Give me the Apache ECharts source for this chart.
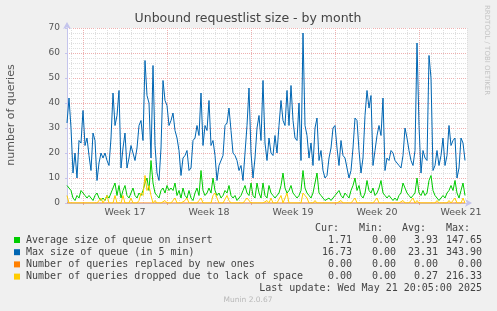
<!DOCTYPE html>
<html><head><meta charset="utf-8">
<script src="https://cdn.jsdelivr.net/npm/echarts@6/dist/echarts.min.js"></script>
<style>html,body{margin:0;padding:0;background:#f0f0f0;}#c{width:497px;height:311px;}</style>
</head><body><div id="c"></div>
<script>
// ---- data ----
const weekLabels = ['Week 17', 'Week 18', 'Week 19', 'Week 20', 'Week 21'];
const yTicks = [0, 10, 20, 30, 40, 50, 60, 70];

const avgQueue = [
  7,7,5,2,1,3,2,5,4,3, 2,3,2,1,3,4,2,1,2,1, 3,2,4,6,8,3,7,2,5,7, 3,2,4,6,3,2,4,3,5,8,
  10,5,17,8,4,3,2,5,6,4, 7,5,6,5,8,3,5,2,6,3, 2,5,2,1,4,6,3,13,5,3, 4,6,4,10,5,3,4,2,3,5,
  4,7,3,2,3,1,2,3,5,7, 4,3,8,3,2,8,4,2,8,3, 2,7,4,3,2,2,4,7,12,6, 4,5,7,4,3,2,3,5,13,6,
  4,3,2,4,8,12,4,3,2,1, 1,2,1,2,3,4,5,3,2,4, 3,2,5,7,10,5,7,3,2,4, 9,5,4,6,3,4,6,9,4,3,
  2,3,2,1,2,1,3,4,8,6, 4,3,2,3,4,10,4,3,5,3, 4,9,11,5,3,2,1,2,3,2, 4,5,7,5,9,4,2,5,8,3
];
const maxQueue = [
  32,42,30,12,20,10,25,24,37,23, 26,19,13,28,25,9,16,20,18,20, 17,15,26,44,31,35,45,14,22,28, 14,18,23,20,17,22,31,33,25,57,
  43,40,18,55,23,12,9,22,49,41, 39,31,33,36,29,26,21,11,18,19, 21,13,14,25,26,31,27,44,23,31, 29,41,23,25,19,9,15,15,19,31,
  32,38,29,20,19,17,13,15,9,20, 31,46,20,10,18,30,35,25,49,24, 17,26,20,19,27,20,31,41,33,31, 45,31,47,33,26,25,40,17,68,31,
  27,18,24,15,30,34,17,21,13,10, 11,18,22,30,31,22,15,25,19,18, 14,10,13,22,34,33,21,12,18,35, 45,38,43,15,21,27,31,27,42,13,
  18,17,21,20,17,16,15,14,19,30, 26,21,17,15,21,64,31,12,21,18, 17,59,50,13,15,21,15,19,26,15, 19,31,23,25,26,10,14,26,24,17
];
const replaced = [
  0,0,0,0,0,0,0,0,0,0, 0,0,0,0,0,0,0,0,0,0, 0,0,0,0,0,0,0,0,0,0, 0,0,0,0,0,0,0,0,0,0,
  0,0,0,0,0,0,0,0,0,0, 0,0,0,0,0,0,0,0,0,0, 0,0,0,0,0,0,0,0,0,0, 0,0,0,0,0,0,0,0,0,0,
  0,0,0,0,0,0,0,0,0,0, 0,0,0,0,0,0,0,0,0,0, 0,0,0,0,0,0,0,0,0,0, 0,0,0,0,0,0,0,0,0,0,
  0,0,0,0,0,0,0,0,0,0, 0,0,0,0,0,0,0,0,0,0, 0,0,0,0,0,0,0,0,0,0, 0,0,0,0,0,0,0,0,0,0,
  0,0,0,0,0,0,0,0,0,0, 0,0,0,0,0,0,0,0,0,0, 0,0,0,0,0,0,0,0,0,0, 0,0,0,0,0,0,0,0,0,0
];
const dropped = [
  3,0,0,0,0,0,0,0,0,0, 0,0,0,0,0,0,0,2,0,0, 3,0,0,0,3,0,0,0,3,0, 0,0,2,0,0,0,1,4,3,11,
  5,7,3,0,1,0,0,0,0,1, 0,0,0,0,2,0,0,0,0,1, 2,0,0,0,0,0,1,2,0,0, 0,0,0,3,4,2,0,0,0,0,
  3,1,0,0,0,0,0,0,0,0, 2,2,0,0,0,0,0,0,0,0, 1,0,2,0,0,0,0,3,0,2, 4,0,0,0,0,0,0,0,4,3,
  2,0,0,0,1,0,0,0,0,0, 0,0,0,0,0,0,0,1,0,0, 0,0,0,0,2,0,0,0,0,0, 0,0,0,0,0,2,0,0,0,0,
  0,0,0,0,0,0,0,0,1,0, 0,0,0,2,0,1,0,0,0,0, 0,0,0,0,0,1,0,0,0,0, 0,1,0,0,2,0,0,0,2,0
];

const legendNames = ['Average size of queue on insert', 'Max size of queue (in 5 min)', 'Number of queries replaced by new ones', 'Number of queries dropped due to lack of space'];
const colHeaders = ['Cur:', 'Min:', 'Avg:', 'Max:'];
const curVals = ['1.71', '16.73', '0.00', '0.00'];
const minVals = ['0.00', '0.00', '0.00', '0.00'];
const avgVals = ['3.93', '23.31', '0.00', '0.27'];
const maxVals = ['147.65', '343.90', '0.00', '216.33'];
const lastUpdate = 'Last update: Wed May 21 20:05:00 2025';

// ---- layout ----
const colors = ['#00cc00', '#0066b3', '#ff8000', '#ffcc00'];
const slotCount = 201;
const slots = Array.from({length: slotCount}, (_, i) => i);
const minorStep = 6, majorStep = 42, majorFirst = 8;
const isMajor = (i) => i >= majorFirst && (i - majorFirst) % majorStep === 0;
const isMinor = (i) => (i - 2) % minorStep === 0 && !isMajor(i);
const labelIdx = (i) => (i - majorFirst - majorStep / 2) % majorStep === 0 && i > majorFirst;

const chart = echarts.init(document.getElementById('c'), null, {renderer: 'canvas'});
const mono = '10px "DejaVu Sans Mono"';
const textCol = '#444';
const graphics = [];
function txt(text, x, y, align, font, fill, rot) {
  graphics.push({type: 'text', x: x, y: y, rotation: rot || 0, silent: true,
    style: {text: text, x: 0, y: 0, font: font, fill: fill, align: align, verticalAlign: 'middle', textAlign: align, textVerticalAlign: 'middle'}});
}
txt('Unbound requestlist size - by month', 248, 19, 'center', '12.5px "DejaVu Sans"', '#444');
txt('number of queries', 11, 115, 'center', '11px "DejaVu Sans"', '#555', Math.PI / 2);
txt('RRDTOOL / TOBI OETIKER', 487, 5, 'left', '7px "DejaVu Sans"', '#c4c4c4', -Math.PI / 2);
const hdrX = [339, 383, 426, 470];
const valX = [352, 396, 438, 482];
colHeaders.forEach((h, k) => txt(h, hdrX[k], 228, 'right', mono, textCol));
legendNames.forEach((n, r) => {
  const yc = 240 + r * 12.2;
  graphics.push({type: 'rect', silent: true, shape: {x: 14, y: yc - 3, width: 6, height: 6}, style: {fill: colors[r]}});
  txt(n, 26, yc, 'left', mono, textCol);
  [curVals, minVals, avgVals, maxVals].forEach((arr, k) => txt(arr[r], valX[k], yc, 'right', mono, textCol));
});
txt(lastUpdate, 482, 288, 'right', mono, textCol);
txt('Munin 2.0.67', 248, 300, 'center', '7.5px "DejaVu Sans"', '#b8b8b8');

const seriesDefs = [avgQueue, maxQueue, replaced, dropped];
chart.setOption({
  animation: false,
  backgroundColor: '#f0f0f0',
  grid: {left: 67, right: 30, top: 28, bottom: 108, show: true, backgroundColor: '#ffffff', borderWidth: 0},
  xAxis: [
    {type: 'category', data: slots, boundaryGap: false,
     axisLine: {show: true, lineStyle: {color: '#c4c4ec', width: 1}, symbol: ['none', 'arrow'], symbolSize: [6, 7], symbolOffset: [0, 5]},
     axisTick: {show: true, length: 2, interval: (i) => isMajor(i), lineStyle: {color: '#e0a0a0'}},
     axisLabel: {interval: (i) => labelIdx(i), formatter: (v, i) => weekLabels[Math.round((i - majorFirst - majorStep / 2) / majorStep)] || '',
       color: '#555', fontSize: 9.5, fontFamily: 'DejaVu Sans', margin: 5},
     splitLine: {show: true, interval: (i) => isMajor(i), lineStyle: {color: '#eeb0b0', type: [1, 1], width: 1}}},
    {type: 'category', data: slots, boundaryGap: false, position: 'bottom',
     axisLine: {show: false}, axisTick: {show: false}, axisLabel: {show: false},
     splitLine: {show: true, interval: (i) => isMinor(i), lineStyle: {color: '#dedede', type: [1, 1], width: 1}}}
  ],
  yAxis: {type: 'value', min: yTicks[0], max: yTicks[yTicks.length - 1], interval: 10,
    axisLine: {show: true, lineStyle: {color: '#c4c4ec', width: 1}, symbol: ['none', 'arrow'], symbolSize: [6, 7], symbolOffset: [0, 6]},
    axisTick: {show: true, length: 2, lineStyle: {color: '#c4c4ec'}},
    axisLabel: {color: '#555', fontSize: 9, fontFamily: 'DejaVu Sans', margin: 7},
    splitLine: {show: true, lineStyle: {color: '#eeb0b0', type: [1, 1], width: 1}},
    minorTick: {show: false, splitNumber: 5},
    minorSplitLine: {show: true, lineStyle: {color: '#dedede', type: [1, 1], width: 1}}},
  series: seriesDefs.map((d, k) => ({
    type: 'line', data: d, xAxisIndex: 0, symbol: 'none', silent: true,
    lineStyle: {color: colors[k], width: 1}, itemStyle: {color: colors[k]}
  })),
  graphic: graphics
});
</script>
</body></html>
